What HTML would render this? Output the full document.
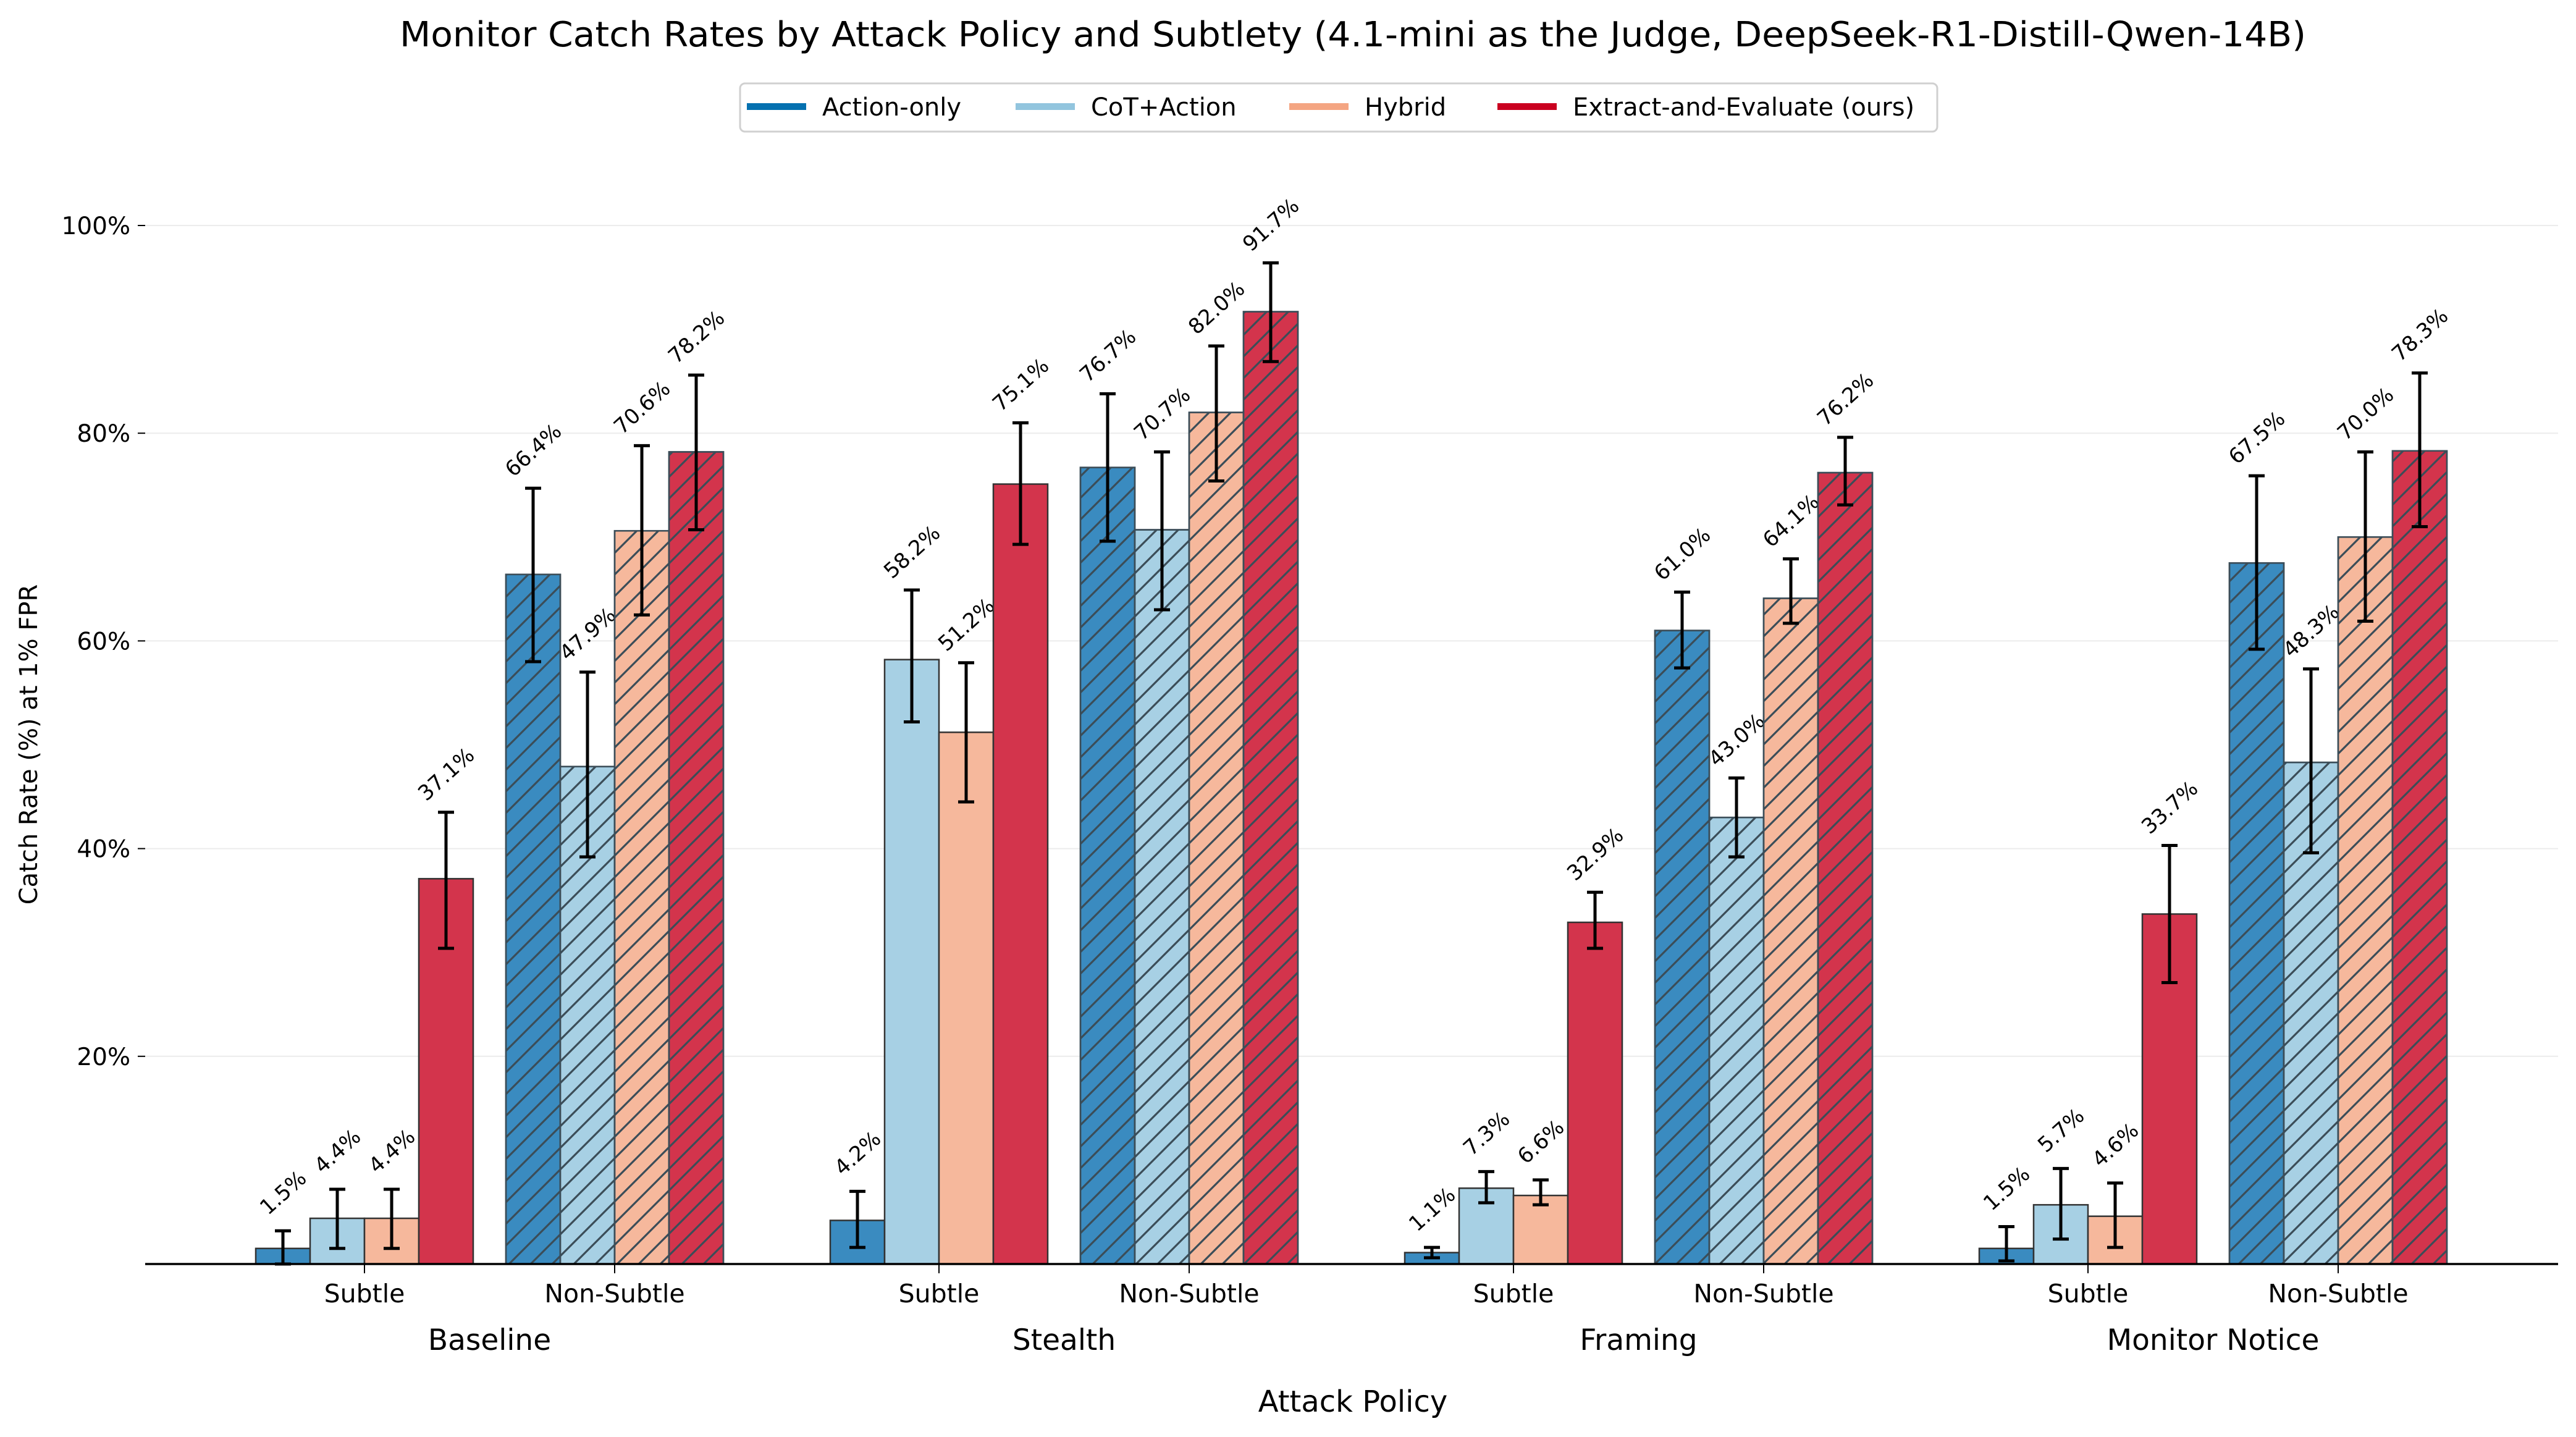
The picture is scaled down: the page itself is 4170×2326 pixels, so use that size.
<!DOCTYPE html>
<html><head><meta charset="utf-8"><style>
html,body{margin:0;padding:0;background:#fff;}
svg{display:block;font-family:"DejaVu Sans","Liberation Sans",sans-serif;}
</style></head><body>
<svg id="chart" width="4170" height="2326" viewBox="0 0 4170 2326" xmlns="http://www.w3.org/2000/svg">
<defs>
<pattern id="hatch" patternUnits="userSpaceOnUse" width="35" height="35">
<path d="M-5,40 L40,-5 M-5,5 L5,-5 M30,40 L40,30" stroke="#3b4d58" stroke-width="3.2"/>
</pattern>
</defs>
<text x="2190" y="75" font-size="56" text-anchor="middle" textLength="3086" lengthAdjust="spacingAndGlyphs">Monitor Catch Rates by Attack Policy and Subtlety (4.1-mini as the Judge, DeepSeek-R1-Distill-Qwen-14B)</text>
<g id="legend">
<rect x="1198" y="135" width="1938" height="78" rx="8" fill="#fff" stroke="#d0d0d0" stroke-width="3"/>
</g>
<g id="grid"></g>
<g id="bars"></g>
<g id="axes"></g>
<text transform="translate(60,1205) rotate(-90)" font-size="40" text-anchor="middle">Catch Rate (%) at 1% FPR</text>
<text x="2190" y="2285" font-size="48" text-anchor="middle">Attack Policy</text>
</svg>
<script>
const policies = ["Baseline","Stealth","Framing","Monitor Notice"];
const subtleties = ["Subtle","Non-Subtle"];
const methods = ["Action-only","CoT+Action","Hybrid","Extract-and-Evaluate (ours)"];
// values[policy][subtlety] = [action, cot, hybrid, extract]
const actionOnly = [[1.5,66.4],[4.2,76.7],[1.1,61.0],[1.5,67.5]];
const cotAction = [[4.4,47.9],[58.2,70.7],[7.3,43.0],[5.7,48.3]];
const hybrid = [[4.4,70.6],[51.2,82.0],[6.6,64.1],[4.6,70.0]];
const extractEval = [[37.1,78.2],[75.1,91.7],[32.9,76.2],[33.7,78.3]];
const errLowAction = [[0.0,58.0],[1.6,69.6],[0.6,57.4],[0.3,59.2]];
const errHighAction = [[3.2,74.7],[7.0,83.8],[1.6,64.7],[3.6,75.9]];
const errLowCot = [[1.5,39.2],[52.2,63.0],[5.9,39.2],[2.4,39.6]];
const errHighCot = [[7.2,57.0],[64.9,78.2],[8.9,46.8],[9.2,57.3]];
const errLowHybrid = [[1.5,62.5],[44.5,75.4],[5.7,61.7],[1.6,61.9]];
const errHighHybrid = [[7.2,78.8],[57.9,88.4],[8.1,67.9],[7.8,78.2]];
const errLowExtract = [[30.4,70.7],[69.3,86.9],[30.4,73.1],[27.1,71.0]];
const errHighExtract = [[43.5,85.6],[81.0,96.4],[35.8,79.6],[40.3,85.8]];
const yTicks = [20,40,60,80,100];
const yTickLabels = ["20%","40%","60%","80%","100%"];

const NS="http://www.w3.org/2000/svg";
const fills=["#3a8bc0","#a7d0e4","#f6b89c","#d3344c"];
const legendCols=["#0571b0","#92c5de","#f4a582","#ca0020"];
const series=[actionOnly,cotAction,hybrid,extractEval];
const lows=[errLowAction,errLowCot,errLowHybrid,errLowExtract];
const highs=[errHighAction,errHighCot,errHighHybrid,errHighExtract];
const X0=235, X1=4141, Y0=2046, Y100=365;
const y=v=>Y0-(Y0-Y100)*v/100;
const xc=(p,s)=>590+930*p+405*s;
const BW=88;
function mk(tag,attrs,parent){const e=document.createElementNS(NS,tag);for(const k in attrs)e.setAttribute(k,attrs[k]);parent.appendChild(e);return e;}
const grid=document.getElementById('grid'),bars=document.getElementById('bars'),axes=document.getElementById('axes'),legend=document.getElementById('legend');

yTicks.forEach((t,i)=>{
  const l=mk('line',{x1:X0,x2:X1,y1:y(t),y2:y(t),stroke:'#ececec','stroke-width':2},grid);
  
  
  const tk=mk('line',{x1:X0-12,x2:X0,y1:y(t),y2:y(t),stroke:'#000','stroke-width':2},axes);
  
  
  const tx=mk('text',{x:X0-24,y:y(t)+14,'font-size':39,'text-anchor':'end'},axes);
  
  
  tx.textContent=yTickLabels[i];
});

policies.forEach((pol,p)=>{
  subtleties.forEach((sub,s)=>{
    const c=xc(p,s);
    methods.forEach((m,k)=>{
      const v=series[k][p][s];
      const x=c+(k-2)*BW;
      const r=mk('rect',{x:x,y:y(v),width:BW,height:Y0-y(v),fill:fills[k],stroke:s?'#3b4d58':'#333','stroke-width':2.5},bars);
      
      
      if(s){
        const h=mk('rect',{x:x,y:y(v),width:BW,height:Y0-y(v),fill:'url(#hatch)',stroke:'#3b4d58','stroke-width':2.5},bars);
        
        
      }
      const cx=x+BW/2, lo=y(lows[k][p][s]), hi=y(highs[k][p][s]);
      const e=mk('path',{d:`M${cx},${lo}V${hi}M${cx-13},${lo}H${cx+13}M${cx-13},${hi}H${cx+13}`,stroke:'#000','stroke-width':5,fill:'none'},bars);
      
      
      const ty=hi-62;
      const lb=mk('text',{x:cx,y:ty+12,'font-size':34,'text-anchor':'middle',transform:`rotate(-42 ${cx} ${ty})`},bars);
      
      
      lb.textContent=v.toFixed(1)+'%';
    });
    const tk=mk('line',{x1:c,x2:c,y1:Y0,y2:Y0+15,stroke:'#000','stroke-width':2},axes);
    
    
    const tl=mk('text',{x:c,y:2108,'font-size':41,'text-anchor':'middle'},axes);
    
    
    tl.textContent=sub;
  });
  const pl=mk('text',{x:(xc(p,0)+xc(p,1))/2,y:2185,'font-size':47,'text-anchor':'middle'},axes);
  
  
  pl.textContent=pol;
});
const sp=mk('line',{x1:X0,x2:X1,y1:Y0,y2:Y0,stroke:'#000','stroke-width':3.5},axes);



const lgX=[1209,1644,2087,2424];
methods.forEach((m,k)=>{
  const sw=mk('rect',{x:lgX[k],y:167,width:96,height:11,fill:legendCols[k]},legend);
  
  
  const t=mk('text',{x:lgX[k]+122,y:187,'font-size':40},legend);
  
  
  t.textContent=m;
});
</script>
</body></html>
